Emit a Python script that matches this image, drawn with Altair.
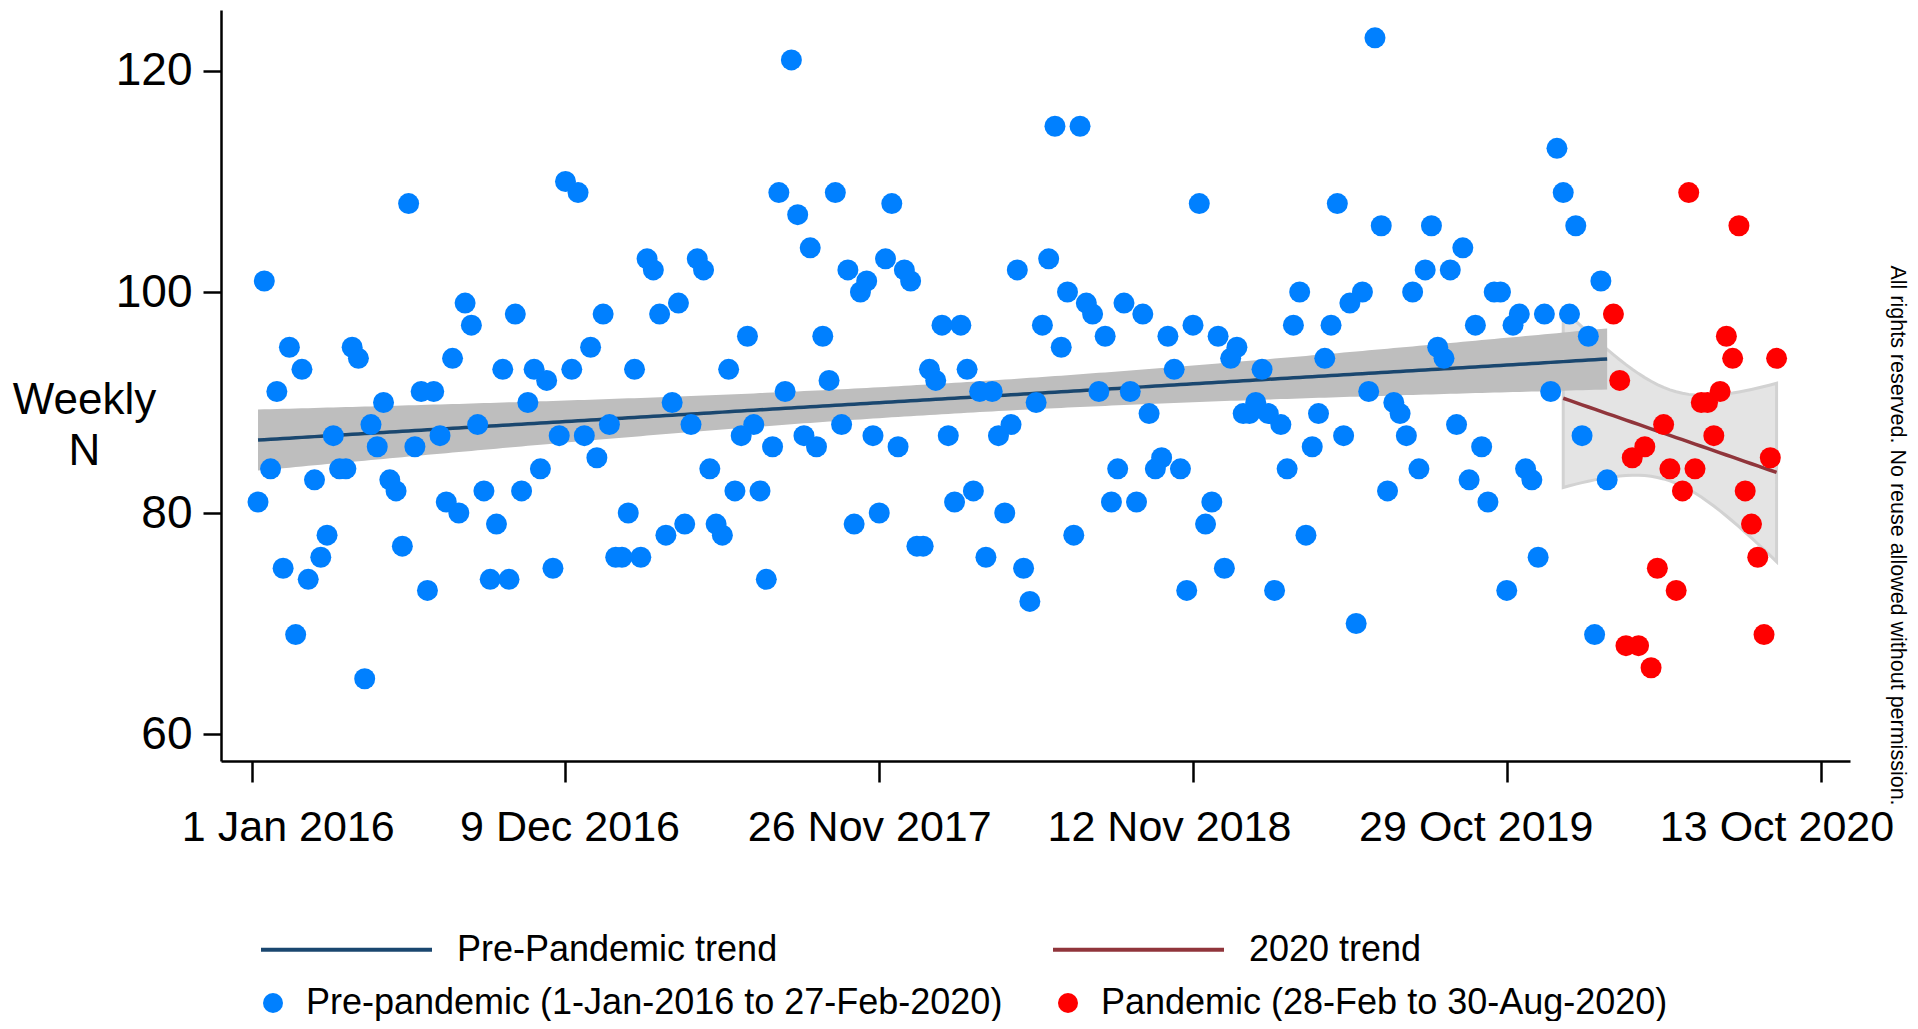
import altair as alt
import numpy as np
import pandas as pd

# ---------------- data ----------------
# weekly counts, pre-pandemic (index 0 = first week of Jan 2016)
PRE_VALUES = [
    81, 101, 84, 91, 75, 95, 69, 93, 74, 83,
    76, 78, 87, 84, 84, 95, 94, 65, 88, 86,
    90, 83, 82, 77, 108, 86, 91, 73, 91, 87,
    81, 94, 80, 99, 97, 88, 82, 74, 79, 93,
    74, 98, 82, 90, 93, 84, 92, 75, 87, 110,
    93, 109, 87, 95, 85, 98, 88, 76, 76, 80,
    93, 76, 103, 102, 98, 78, 90, 99, 79, 88,
    103, 102, 84, 79, 78, 93, 82, 87, 96, 88,
    82, 74, 86, 109, 91, 121, 107, 87, 104, 86,
    96, 92, 109, 88, 102, 79, 100, 101, 87, 80,
    103, 108, 86, 102, 101, 77, 77, 93, 92, 97,
    87, 81, 97, 93, 82, 91, 76, 91, 87, 80,
    88, 102, 75, 72, 90, 97, 103, 115, 95, 100,
    78, 115, 99, 98, 91, 96, 81, 84, 99, 91,
    81, 98, 89, 84, 85, 96, 93, 84, 73, 97,
    108, 79, 81, 96, 75, 94, 95, 89, 89, 90,
    93, 89, 73, 88, 84, 97, 100, 78, 86, 89,
    94, 97, 108, 87, 99, 70, 100, 91, 123, 106,
    82, 90, 89, 87, 100, 84, 102, 106, 95, 94,
    102, 88, 104, 83, 97, 86, 81, 100, 100, 73,
    97, 98, 84, 83, 76, 98, 91, 113, 109, 98,
    106, 87, 96, 69, 101, 83,
]
# weekly counts, pandemic period (continues after the pre-pandemic weeks)
PAN_VALUES = [
    98, 92, 68, 85, 68, 86, 66, 75, 88, 84,
    73, 82, 109, 84, 90, 90, 87, 91, 96, 94,
    106, 82, 79, 76, 69, 85, 94,
]
START_2020 = 208          # first week of 2020 (start of the 2020 trend)
T_PRE, T_2020 = 1.971, 2.035   # t critical values (95%)

SERIES = ["Pre-pandemic (1-Jan-2016 to 27-Feb-2020)", "Pandemic (28-Feb to 30-Aug-2020)"]
TRENDS = ["Pre-Pandemic trend", "2020 trend"]

TICK_POS = [-1, 49, 99, 149, 199, 249]
TICK_LABELS = ["1 Jan 2016", "9 Dec 2016", "26 Nov 2017", "12 Nov 2018", "29 Oct 2019", "13 Oct 2020"]
TICK_LABEL_SHIFT = [36, 4, -10, -24, -31, -44]
Y_TICKS = [60, 80, 100, 120]

BLUE, RED = "#0080ff", "#ff0000"
NAVY, MAROON = "#1a476f", "#90353b"
FONT = "Liberation Sans"

# ---------------- tables ----------------
n_pre = len(PRE_VALUES)
idx_all = np.arange(n_pre + len(PAN_VALUES))
val_all = np.array(PRE_VALUES + PAN_VALUES, dtype=float)

points = pd.DataFrame({
    "idx": idx_all,
    "value": val_all,
    "series": [SERIES[0]] * n_pre + [SERIES[1]] * len(PAN_VALUES),
})


def ols_band(xs, ys, t):
    xm, ym = xs.mean(), ys.mean()
    sxx = ((xs - xm) ** 2).sum()
    b = ((xs - xm) * (ys - ym)).sum() / sxx
    a = ym - b * xm
    res = ys - (a + b * xs)
    s2 = (res ** 2).sum() / (len(xs) - 2)
    fit = a + b * xs
    se = np.sqrt(s2 * (1.0 / len(xs) + (xs - xm) ** 2 / sxx))
    return fit, fit - t * se, fit + t * se


xp = idx_all[:n_pre].astype(float)
fp, lp, hp = ols_band(xp, val_all[:n_pre], T_PRE)
x20 = idx_all[START_2020:].astype(float)
f20, l20, h20 = ols_band(x20, val_all[START_2020:], T_2020)

trend_pre = pd.DataFrame({"idx": xp, "fit": fp, "lo": lp, "hi": hp, "trend": TRENDS[0]})
trend_20 = pd.DataFrame({"idx": x20, "fit": f20, "lo": l20, "hi": h20, "trend": TRENDS[1]})
trends = pd.concat([trend_pre, trend_20], ignore_index=True)

# ---------------- scales / axes ----------------
label_expr = " : ".join(
    f"datum.value == {p} ? '{l}'" for p, l in zip(TICK_POS, TICK_LABELS)
) + " : ''"
label_shift = {
    "condition": [{"test": f"datum.value == {p}", "value": s} for p, s in zip(TICK_POS, TICK_LABEL_SHIFT)],
    "value": 0,
}

x_scale = alt.Scale(domain=[-5.9, 253.7], nice=False, zero=False)
y_scale = alt.Scale(domain=[57.56, 125.52], nice=False, zero=False)

x_axis = alt.Axis(
    values=TICK_POS, labelExpr=label_expr, title=None, grid=False,
    labelFontSize=43, labelFont=FONT, labelColor="black", labelLimit=600,
    labelPadding=24, tickSize=21, tickWidth=2.5, tickColor="black",
    domainWidth=2.5, domainColor="black", labelFlush=False, labelOverlap=False,
    labelOffset=label_shift,
)
y_axis = alt.Axis(
    values=Y_TICKS, title=["Weekly", "N"], grid=False,
    labelFontSize=46, labelFont=FONT, labelColor="black", labelPadding=11,
    tickSize=18, tickWidth=2.5, tickColor="black",
    domainWidth=2.5, domainColor="black",
    titleFontSize=44, titleFont=FONT, titleFontWeight="normal", titleColor="black",
    titleAngle=0, titleAlign="center", titleBaseline="middle",
    titleX=-137, titleY=390, titleLineHeight=51,
)

X = alt.X("idx:Q", scale=x_scale, axis=x_axis)

band20 = alt.Chart(trend_20).mark_area(
    color="#e4e4e4", stroke="#d2d2d2", strokeWidth=3
).encode(
    x=X, y=alt.Y("lo:Q", scale=y_scale, axis=y_axis), y2=alt.Y2("hi:Q")
)
band_pre = alt.Chart(trend_pre).mark_area(color="#bebebe").encode(
    x=X, y=alt.Y("lo:Q", scale=y_scale, axis=y_axis), y2=alt.Y2("hi:Q")
)
lines = alt.Chart(trends).mark_line(strokeWidth=3.5).encode(
    x=X,
    y=alt.Y("fit:Q", scale=y_scale, axis=y_axis),
    stroke=alt.Stroke(
        "trend:N",
        scale=alt.Scale(domain=TRENDS, range=[NAVY, MAROON]),
        legend=alt.Legend(
            title=None, orient="none", legendX=38, legendY=852,
            direction="horizontal", columns=2, columnPadding=267,
            symbolType="stroke", symbolSize=29241, symbolStrokeWidth=4,
            labelFontSize=36, labelFont=FONT, labelColor="black",
            labelOffset=23, labelLimit=1000, padding=0,
        ),
    ),
    detail="trend:N",
)
dots = alt.Chart(points).mark_circle(size=441, opacity=1).encode(
    x=X,
    y=alt.Y("value:Q", scale=y_scale, axis=y_axis),
    fill=alt.Fill(
        "series:N",
        scale=alt.Scale(domain=SERIES, range=[BLUE, RED]),
        legend=alt.Legend(
            title=None, orient="none", legendX=34, legendY=975,
            direction="horizontal", columns=2, columnPadding=47,
            symbolType="circle", symbolSize=400, symbolStrokeWidth=0,
            labelFontSize=36, labelFont=FONT, labelColor="black",
            labelOffset=15, labelLimit=1000, padding=0,
        ),
    ),
)

chart = alt.layer(band20, band_pre, lines, dots).properties(
    width=1629, height=751,
    padding={"left": 4, "top": 2, "right": 0, "bottom": 0},
    title=alt.TitleParams(
        text="All rights reserved. No reuse allowed without permission.",
        orient="right", anchor="middle", frame="bounds", fontSize=21.5, font=FONT,
        fontWeight="normal", color="black", offset=-7, dx=20,
    ),
).resolve_scale(fill="independent", stroke="independent").configure_view(stroke=None)

chart.save("out.html", embed_options={"renderer": "svg", "actions": False})
